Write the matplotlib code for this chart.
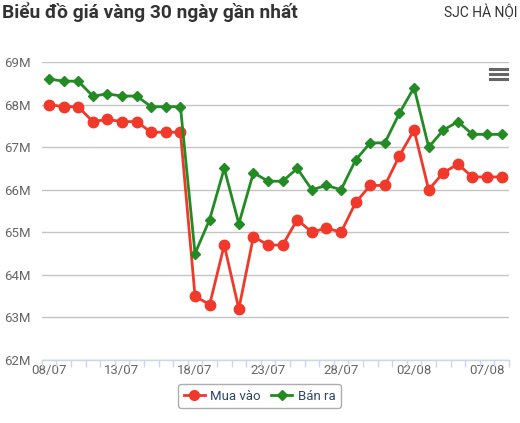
import numpy as np
import matplotlib.pyplot as plt
from matplotlib.lines import Line2D

plt.rcParams['font.family'] = ['Roboto', 'DejaVu Sans']

# ngày (30 ngày gần nhất)
dates = ["08/07", "09/07", "10/07", "11/07", "12/07", "13/07", "14/07", "15/07",
         "16/07", "17/07", "18/07", "19/07", "20/07", "21/07", "22/07", "23/07",
         "24/07", "25/07", "26/07", "27/07", "28/07", "29/07", "30/07", "31/07",
         "01/08", "02/08", "03/08", "04/08", "05/08", "06/08", "07/08", "08/08"]

# giá (triệu đồng)
mua_vao = [68.0, 67.95, 67.95, 67.6, 67.65, 67.6, 67.6, 67.35, 67.35, 67.35,
           63.5, 63.3, 64.7, 63.2, 64.9, 64.7, 64.7, 65.3, 65.0, 65.1, 65.0,
           65.7, 66.1, 66.1, 66.8, 67.4, 66.0, 66.4, 66.6, 66.3, 66.3, 66.3]
ban_ra = [68.6, 68.55, 68.55, 68.2, 68.25, 68.2, 68.2, 67.95, 67.95, 67.95,
          64.5, 65.3, 66.5, 65.2, 66.4, 66.2, 66.2, 66.5, 66.0, 66.1, 66.0,
          66.7, 67.1, 67.1, 67.8, 68.4, 67.0, 67.4, 67.6, 67.3, 67.3, 67.3]

yticks = [62, 63, 64, 65, 66, 67, 68, 69]

RED = '#f0392b'
GREEN = '#238b23'

W, H = 520, 423
fig = plt.figure(figsize=(W / 100, H / 100), dpi=100)
ax = fig.add_axes([41.7 / W, 1 - 360 / H, (509 - 41.7) / W, (360 - 62) / H])

x = np.arange(len(dates))
ax.plot(x, mua_vao, color=RED, lw=2, marker='o', ms=7.5, mec=RED, zorder=3)
ax.plot(x, ban_ra, color=GREEN, lw=2, marker='D', ms=5, mec=GREEN, zorder=3)

ax.set_xlim(-0.5, len(dates) - 0.5)
ax.set_ylim(62, 69)

ax.set_yticks(yticks)
ax.set_yticklabels([f"{v}M" for v in yticks])
ax.grid(axis='y', color='#c4c4c4', lw=1)
ax.set_axisbelow(True)

ax.set_xticks(x[::5])
ax.set_xticklabels([dates[i] for i in x[::5]])
ax.set_xticks(np.arange(-0.5, len(dates), 1), minor=True)
ax.tick_params(axis='x', which='major', length=0, pad=3, labelsize=9.5, labelcolor='#666666')
ax.tick_params(axis='x', which='minor', length=5, width=1, color='#ccd6eb')
ax.tick_params(axis='y', length=0, pad=8, labelsize=9.5, labelcolor='#666666')

for s in ['top', 'right', 'left']:
    ax.spines[s].set_visible(False)
ax.spines['bottom'].set_color('#ccd6eb')
ax.spines['bottom'].set_linewidth(1)

fig.text(2 / W, 1 - 12 / H, "Biểu đồ giá vàng 30 ngày gần nhất", fontsize=13.8,
         fontweight='bold', color='#333333', va='center', ha='left')
fig.text(517 / W, 1 - 12 / H, "SJC HÀ NỘI", fontsize=10, color='#333333',
         va='center', ha='right')

# nút menu
for yy in [69, 74, 79]:
    fig.add_artist(Line2D([490 / W, 507 / W], [1 - yy / H, 1 - yy / H],
                          color='#666666', lw=2.2))

# chú thích
handles = [Line2D([], [], color=RED, lw=2, marker='o', ms=7),
           Line2D([], [], color=GREEN, lw=2, marker='D', ms=5)]
leg = fig.legend(handles, ["Mua vào", "Bán ra"], loc='center',
                 bbox_to_anchor=(259.5 / W, 1 - 396 / H), ncol=2, frameon=True,
                 fontsize=9.5, handlelength=1.6, handletextpad=0.4,
                 columnspacing=0.8, borderpad=0.4, fancybox=True)
leg.get_frame().set_edgecolor('#999999')
leg.get_frame().set_linewidth(1)
for t in leg.get_texts():
    t.set_color('#2d4765')

fig.savefig("out.png", dpi=100)
